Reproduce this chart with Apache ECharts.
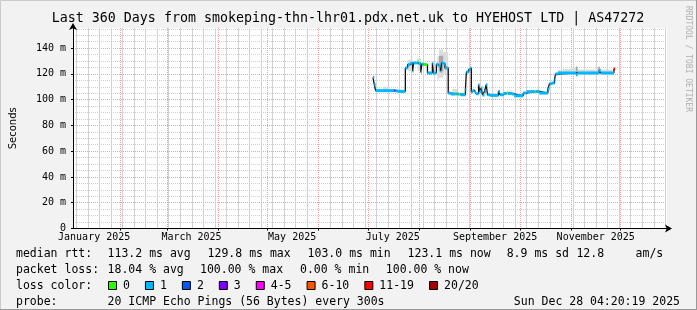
<!DOCTYPE html>
<html><head><meta charset="utf-8">
<script src="https://cdn.jsdelivr.net/npm/echarts@6/dist/echarts.min.js"></script>
<style>html,body{margin:0;padding:0;background:#f2f2f2}#c{width:697px;height:310px}</style>
</head><body><div id="c"></div>
<script>
// x values: days since 2025-01-01 00:00
const monthStarts = [0,31,59,90,120,151,181,212,243,273,304,334];
const labelDays = [15,74,135,196,258,319];
const labelNames = ['January 2025','March 2025','May 2025','July 2025','September 2025','November 2025'];
const weekDays = [4,11,18,25,32,39,46,53,60,67,74,81,88,95,102,109,116,123,130,137,144,151,158,165,172,179,186,193,200,207,214,221,228,235,242,249,256,263,270,277,284,291,298,305,312,319,326,333,340,347,354,361];
const yTicks = [0,20,40,60,80,100,120,140];

// median rtt (ms) per step, held until next step
const days = [184.0,184.8,185.6,197.0,197.6,199.0,203.6,205.0,206.5,208.0,208.6,211.0,211.6,213.0,213.6,214.6,217.0,220.0,220.6,222.4,223.6,225.0,225.6,226.6,227.6,229.6,231.0,234.0,234.6,236.0,237.0,240.0,240.6,242.0,243.0,243.6,244.4,245.6,246.4,248.0,248.6,249.6,250.4,251.6,252.6,253.4,255.0,260.0,261.0,263.0,265.0,266.0,268.0,269.6,275.0,277.0,282.0,283.0,284.8,290.0,291.0,292.4,294.0,294.6,296.0,307.0,308.0,321.0,322.0,330.0];
const lastDay = 330.7;
const median = [117.3,111.6,107.0,107.0,106.8,106.4,124.6,127.2,128.3,122.0,128.5,129.7,128.0,121.2,127.6,127.2,120.7,128.5,120.7,127.5,126.0,122.0,128.5,128.0,124.6,105.1,104.4,104.4,104.4,104.2,103.8,107.7,121.5,123.3,124.6,105.9,107.2,106.0,104.6,111.6,106.4,109.0,103.6,106.4,111.6,103.8,103.3,106.4,103.8,104.8,105.2,104.8,104.4,103.0,105.1,106.2,106.2,106.4,105.1,108.3,112.4,112.9,115.5,119.9,120.7,119.4,120.7,122.7,120.7,123.8];
const lost = [1,1,1,3,1,1,1,1,1,1,1,0,1,1,1,0,1,1,1,1,1,1,1,1,1,1,1,0,1,0,1,1,1,1,1,1,1,1,1,1,1,1,1,1,1,1,1,1,1,1,0,1,1,1,1,1,0,1,1,1,1,1,1,1,1,1,1,1,1,11];

// smoke (ping spread) bands
const smokeStart = [190,205,211,223.0,224.0,226.6,232,260,266.6,281,296,299,304,307,308,319,322];
const smokeEnd   = [194,208,213,224.0,226.6,229.6,235,261,268,283,299,304,307,308,319,322,329];
const smokeLo    = [106.8,122,122,115.5,117,120,104.4,105,104.4,105,119.5,119.5,119.5,118,119.5,119.5,119.5];
const smokeHi    = [110,131,132,133.6,139,137,108.3,107,107,107.7,123,124,125,126,123.3,124.6,123.3];
const darkStart = [224.0,307,320.5];
const darkEnd   = [226.6,308,321.5];
const darkLo    = [122,120,121];
const darkHi    = [134,125.5,125.5];

const lossLabels = ['0','1','2','3','4-5','6-10','11-19','20/20'];
const lossColors = ['#26ff00','#00b8ff','#0059ff','#7e00ff','#ff00ff','#ff5500','#ff0000','#a00000'];
const rttStats = ['113.2 ms avg','129.8 ms max','103.0 ms min','123.1 ms now','8.9 ms sd','12.8','am/s'];
const lossStats = ['18.04 % avg','100.00 % max','0.00 % min','100.00 % now'];
const probeText = '20 ICMP Echo Pings (56 Bytes) every 300s';
const dateText = 'Sun Dec 28 04:20:19 2025';
const titleText = 'Last 360 Days from smokeping-thn-lhr01.pdx.net.uk to HYEHOST LTD | AS47272';

function lossIdx(n){ if(n<=0)return 0; if(n==1)return 1; if(n==2)return 2; if(n==3)return 3; if(n<=5)return 4; if(n<=10)return 5; if(n<=19)return 6; return 7; }

const lineData = days.map((d,i)=>[d, median[i]]).concat([[lastDay, median[median.length-1]]]);
const segData = days.map((d,i)=>[d, i+1<days.length?days[i+1]:lastDay, median[i], lost[i]]);
const smokeData = smokeStart.map((s,i)=>[s, smokeEnd[i], smokeLo[i], smokeHi[i]]);
const darkData = darkStart.map((s,i)=>[s, darkEnd[i], darkLo[i], darkHi[i]]);
const weekData = weekDays.filter(d=>monthStarts.indexOf(d)<0).map(d=>[d, 0, 155.6]);

function bandRender(color){
  return function(params, api){
    const a = api.coord([api.value(0), api.value(3)]);
    const b = api.coord([api.value(1), api.value(2)]);
    return {type:'rect', shape:{x:a[0], y:a[1], width:b[0]-a[0], height:b[1]-a[1]}, style:{fill:color}};
  };
}
function segRender(params, api){
  const a = api.coord([api.value(0), api.value(2)]);
  const b = api.coord([api.value(1), api.value(2)]);
  return {type:'rect', shape:{x:a[0], y:a[1]-1.5, width:Math.max(1,b[0]-a[0]), height:3}, style:{fill: lossColors[lossIdx(api.value(3))]}};
}
function weekRender(params, api){
  const a = api.coord([api.value(0), api.value(1)]);
  const b = api.coord([api.value(0), api.value(2)]);
  const x = Math.round(a[0]);
  return {type:'rect', shape:{x:x, y:b[1], width:1, height:a[1]-b[1]}, style:{fill:'#d2d2d2'}};
}

const MONO = '"DejaVu Sans Mono"';
const CW = 6.94;
const g = [];
function txt(t, x, y, opts){ g.push(Object.assign({type:'text', silent:true, style:Object.assign({text:t, x:x, y:y, font:'11.5px '+MONO, fill:'#000', verticalAlign:'middle', align:'left'}, opts||{})})); }
// border
g.push({type:'rect', shape:{x:0.5,y:0.5,width:696,height:309}, style:{fill:'none', stroke:'#cbcbcb', lineWidth:1}});
g.push({type:'line', shape:{x1:696.5,y1:0,x2:696.5,y2:310}, style:{stroke:'#999', lineWidth:1}});
g.push({type:'line', shape:{x1:0,y1:309.5,x2:697,y2:309.5}, style:{stroke:'#999', lineWidth:1}});
// title & watermark
txt(titleText, 348, 19, {font:'13.3px '+MONO, align:'center'});
g.push({type:'text', silent:true, x:688, y:59, rotation:-Math.PI/2, style:{text:'RRDTOOL / TOBI OETIKER', x:0, y:0, font:'8px '+MONO, fill:'#b0b0b0', align:'center', verticalAlign:'middle'}});
// legend lines
const L1=254, L2=270, L3=286, L4=302;
txt('median rtt:', 16, L1);
[107.6,207.6,307.6,407.6,506.7,576.4,635.6].forEach((x,i)=>txt(rttStats[i], x, L1));
txt('packet loss:', 16, L2);
[107.6,200,300,385.8].forEach((x,i)=>txt(lossStats[i], x, L2));
txt('loss color:', 16, L3);
let bx = 108;
lossLabels.forEach((lab,i)=>{
  g.push({type:'rect', silent:true, shape:{x:bx+0.5, y:L3-4.5, width:8, height:8}, style:{fill:lossColors[i], stroke:'#000', lineWidth:1}});
  txt(lab, bx+15, L3);
  bx = bx + 15 + lab.length*CW + 15;
});
txt('probe:', 16, L4);
txt(probeText, 107.6, L4);
txt(dateText, 680, L4, {align:'right'});

const chart = echarts.init(document.getElementById('c'), null, {renderer:'canvas'});
chart.setOption({
  backgroundColor:'#f2f2f2',
  animation:false,
  grid:{left:67, top:28, width:600, height:200.5, show:true, backgroundColor:'#fff', borderWidth:0},
  xAxis:{
    type:'value', min:2.18, max:362.18, z:2,
    axisLine:{show:true, onZero:false, lineStyle:{color:'#000', width:1}, symbol:['none','arrow'], symbolSize:[6,7], symbolOffset:[0,5]},
    axisTick:{show:true, length:2, lineStyle:{color:'#000'}, customValues:monthStarts},
    axisLabel:{customValues:labelDays, margin:4, fontFamily:'DejaVu Sans Mono', fontSize:10, color:'#000',
      formatter:function(v){ const k = labelDays.indexOf(Math.round(v)); return k>=0?labelNames[k]:''; }},
    splitLine:{show:true, lineStyle:{color:'#f0a0a0', type:[1,1], width:1}}
  },
  yAxis:{
    type:'value', min:0, max:155.6, interval:20, z:2,
    axisLine:{show:true, lineStyle:{color:'#000'}, symbol:['none','arrow'], symbolSize:[6,7], symbolOffset:[0,5]},
    axisTick:{show:true, length:2, lineStyle:{color:'#000'}, customValues:yTicks},
    axisLabel:{customValues:yTicks, margin:7, fontFamily:'DejaVu Sans Mono', fontSize:10, color:'#000', formatter:function(v){return v===0?'0':v+' m';}},
    splitLine:{show:true, lineStyle:{color:'#f0a0a0', type:[1,1]}},
    minorTick:{show:false, splitNumber:4},
    minorSplitLine:{show:true, lineStyle:{color:'#d0d0d0', type:[1,1]}},
    name:'Seconds', nameLocation:'middle', nameRotate:90, nameGap:55,
    nameTextStyle:{fontFamily:'DejaVu Sans', fontSize:10, color:'#000'}
  },
  series:[
    {type:'custom', renderItem:weekRender, data:weekData, encode:{x:0, y:[1,2]}, z:2, silent:true},
    {type:'custom', renderItem:bandRender('#dcdcdc'), data:smokeData, encode:{x:[0,1], y:[2,3]}, z:3, silent:true, clip:true},
    {type:'custom', renderItem:bandRender('#a8a8a8'), data:darkData, encode:{x:[0,1], y:[2,3]}, z:3, silent:true, clip:true},
    {type:'line', data:lineData, step:'end', symbol:'none', lineStyle:{color:'#111', width:1.3}, z:4, silent:true},
    {type:'custom', renderItem:segRender, data:segData, encode:{x:[0,1], y:2}, z:5, silent:true}
  ],
  graphic:{elements:g}
});
</script></body></html>
